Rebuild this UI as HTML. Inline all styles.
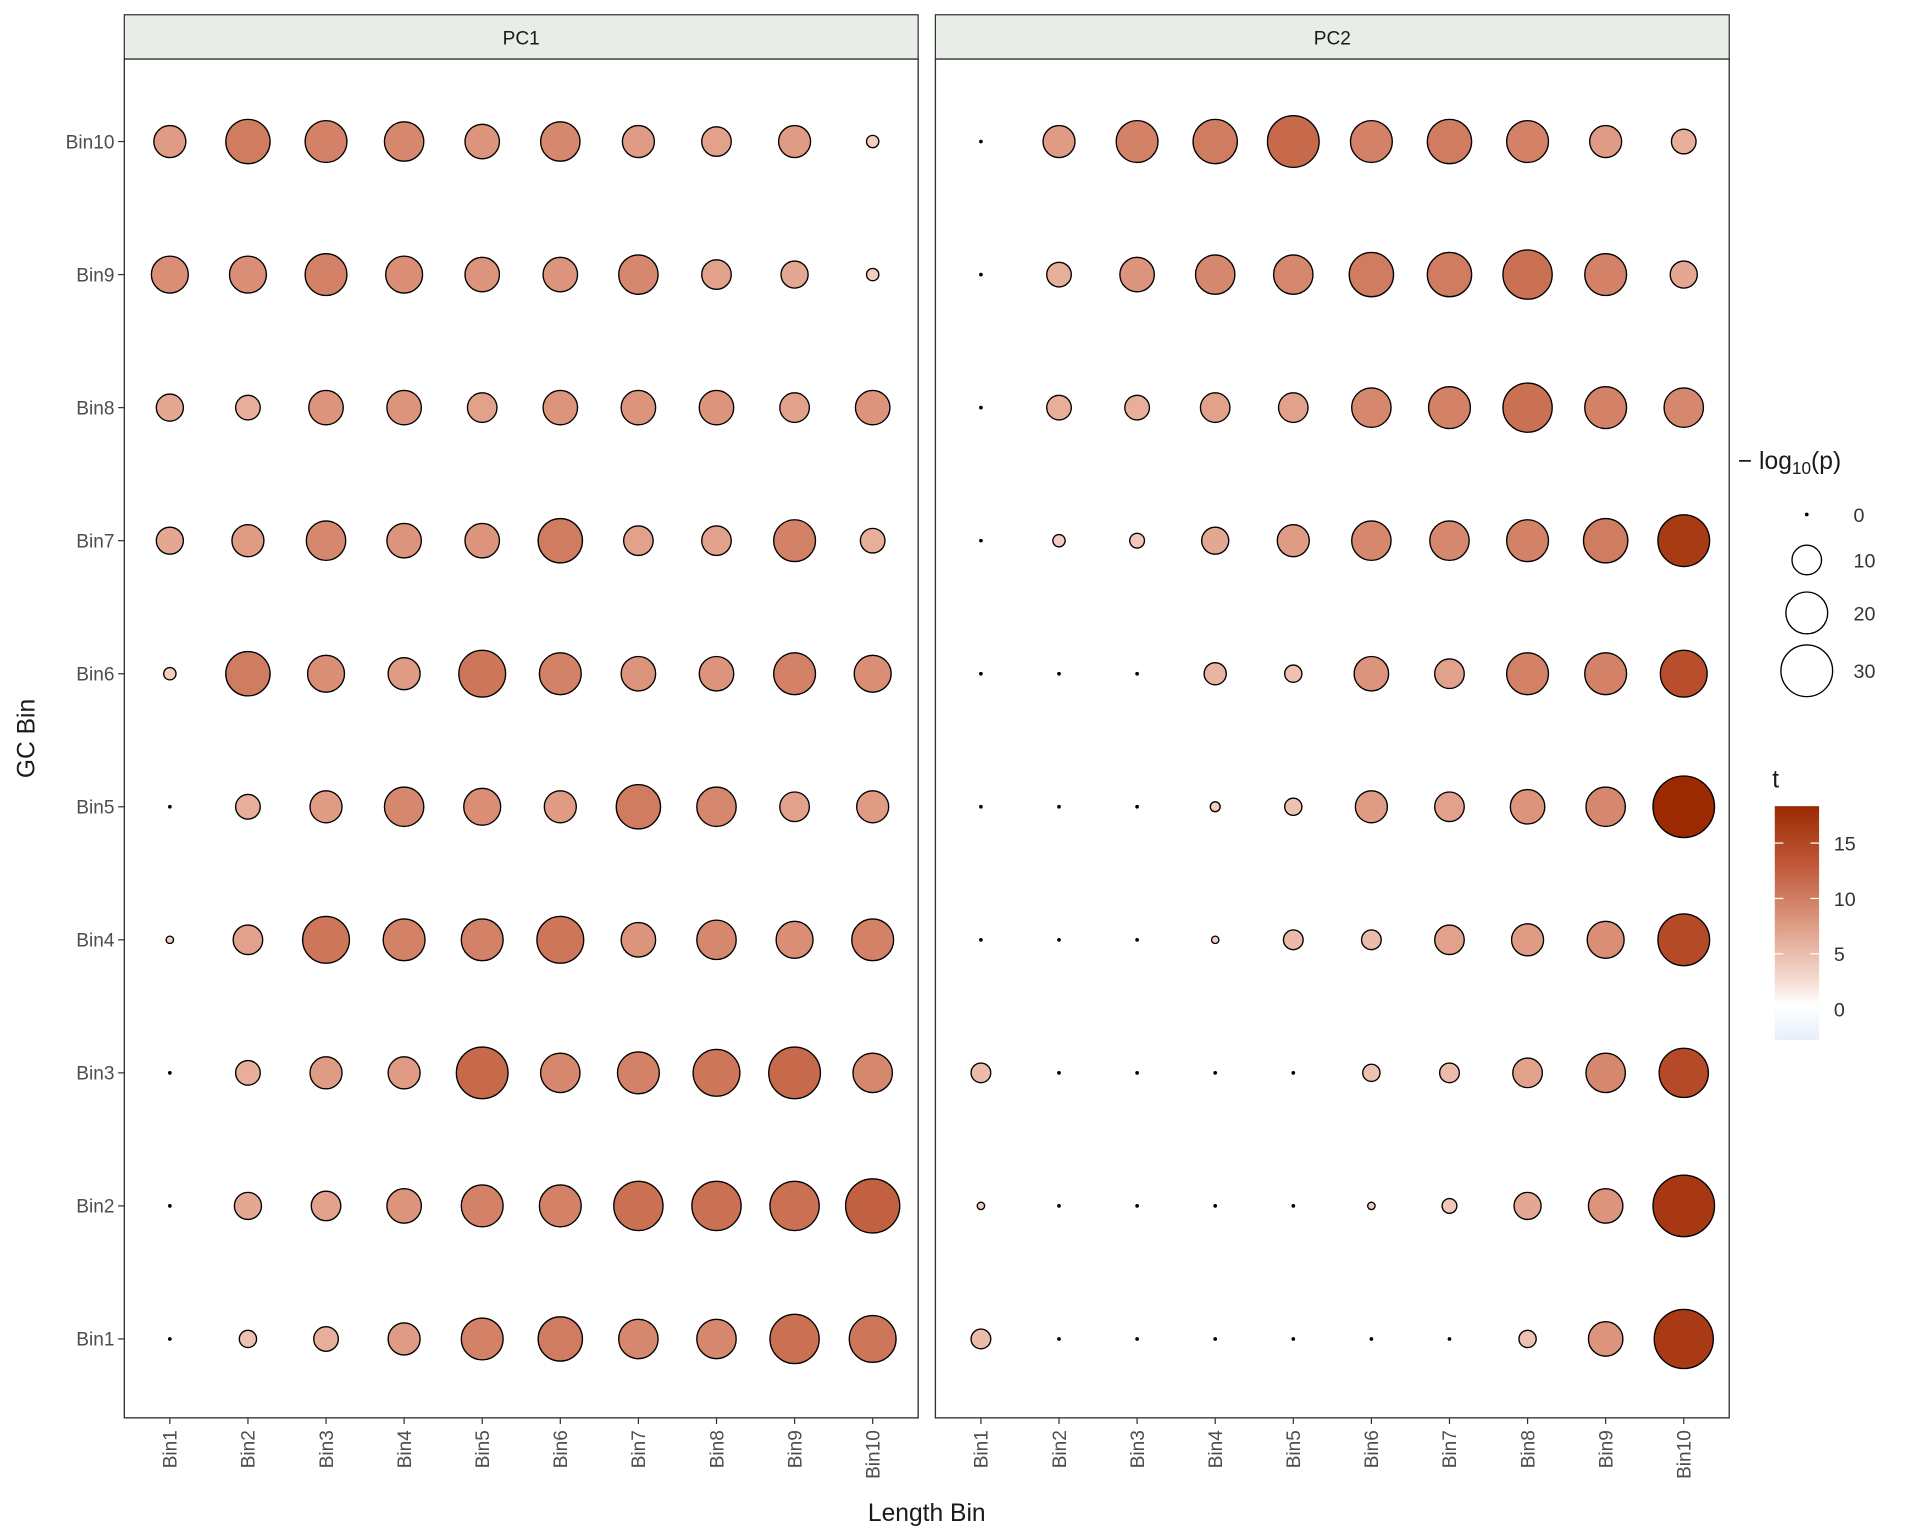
<!DOCTYPE html>
<html><head><meta charset="utf-8"><style>html,body{margin:0;padding:0;background:#fff}svg{display:block}</style></head>
<body>
<svg id="s" width="1920" height="1536" viewBox="0 0 1560 1248" xmlns="http://www.w3.org/2000/svg" font-family="Liberation Sans, Arial, sans-serif">
<defs><linearGradient id="cg" x1="0" y1="0" x2="0" y2="1">
<stop offset="0" stop-color="#9b2a02"/><stop offset="0.25" stop-color="#c0583a"/><stop offset="0.5" stop-color="#dc9a82"/><stop offset="0.75" stop-color="#f6dcd3"/><stop offset="0.85" stop-color="#ffffff"/><stop offset="1" stop-color="#e6effa"/></linearGradient></defs>
<rect width="1560" height="1248" fill="#fff"/>
<g id="g"></g>
</svg>
<script>
var P1=[[13,18,17,16,14,16,13,12,13,5],[15,15,17,15,14,14,16,12,11,5],[11,10,14,14,12,14,14,14,12,14],[11,13,16,14,14,18,12,12,17,10],[5,18,15,13,19,17,14,14,17,15],[1.5,10,13,16,15,13,18,16,12,13],[3,12,19,17,17,19,14,16,15,17],[1.5,10,13,13,21,16,17,19,21,16],[2,11,12,14,17,17,20,20,20,22],[1.5,7,10,13,17,18,16,16,20,19]];
var P2=[[1.5,13,17,18,21,17,18,17,13,10],[1.5,10,14,16,16,18,18,20,17,11],[1.5,10,10,12,12,16,17,20,17,16],[1.5,5,6,11,13,16,16,17,18,21],[1.5,1.5,1.5,9,7,14,12,17,17,19],[1.5,1.5,1.5,4,7,13,12,14,16,25],[1.5,1.5,1.5,3,8,8,12,13,15,21],[8,1.5,1.5,1.5,1.5,7,8,12,16,20],[3,1.5,1.5,1.5,1.5,3,6,11,14,25],[8,1.5,1.5,1.5,1.5,1.5,1.5,7,14,24]];
var OV={'P2_4_9':'#9b2a02','P2_1_9':'#a83814','P2_0_9':'#aa3a16','P2_2_9':'#b54a28','P2_3_9':'#b54a28','P2_6_9':'#a83a14','P2_5_9':'#b84e2c'};
function lerp(a,b,t){return a.map(function(v,i){return Math.round(v+(b[i]-v)*t)})}
function col(r){var f=Math.max(0,Math.min(1,(r-5)/21));var c0=[243,206,192],c1=[222,152,128],c2=[200,108,78],c3=[170,60,28];var c;
if(f<0.4)c=lerp(c0,c1,f/0.4);else if(f<0.75)c=lerp(c1,c2,(f-0.4)/0.35);else c=lerp(c2,c3,(f-0.75)/0.25);return 'rgb('+c.join(',')+')';}
var h='';
var panels=[[101,746,'PC1',P1,'P1'],[760,1405,'PC2',P2,'P2']];
panels.forEach(function(p){
 var x0=p[0],x1=p[1];
 h+='<rect x="'+x0+'" y="12" width="'+(x1-x0)+'" height="36" fill="#e8ede8" stroke="#333" stroke-width="1"/>';
 h+='<text x="'+((x0+x1)/2)+'" y="36" font-size="15.5" text-anchor="middle" fill="#1a1a1a">'+p[2]+'</text>';
 h+='<rect x="'+x0+'" y="48" width="'+(x1-x0)+'" height="1104" fill="#fff" stroke="#333" stroke-width="1.1"/>';
 var cx0=x0+37;
 for(var j=0;j<10;j++){var cx=cx0+j*63.45;
  h+='<line x1="'+cx+'" y1="1152" x2="'+cx+'" y2="1157" stroke="#333"/>';
  h+='<text transform="translate('+(cx+5.5)+',1162) rotate(-90)" font-size="15.5" text-anchor="end" fill="#4d4d4d">Bin'+(j+1)+'</text>';
 }
 for(var i=0;i<10;i++){var cy=115+i*108.1;
  for(var j=0;j<10;j++){var r=p[3][i][j];var cx=cx0+j*63.45;
   var fc=OV[p[4]+'_'+(9-i)+'_'+j]||col(r);
   if(r<=2)h+='<circle cx="'+cx+'" cy="'+cy+'" r="1.5" fill="#000"/>';
   else h+='<circle cx="'+cx+'" cy="'+cy+'" r="'+r+'" fill="'+fc+'" stroke="#000" stroke-width="1.1"/>';
  }}
});
for(var i=0;i<10;i++){var cy=115+i*108.1;
 h+='<line x1="96" y1="'+cy+'" x2="101" y2="'+cy+'" stroke="#333"/>';
 h+='<text x="93" y="'+(cy+5.5)+'" font-size="15.5" text-anchor="end" fill="#4d4d4d">Bin'+(10-i)+'</text>';}
h+='<text x="753" y="1236" font-size="20" text-anchor="middle" fill="#1a1a1a">Length Bin</text>';
h+='<text transform="translate(28,600) rotate(-90)" font-size="20" text-anchor="middle" fill="#1a1a1a">GC Bin</text>';
h+='<text x="1412" y="381" font-size="20" fill="#1a1a1a">− log<tspan font-size="14" dy="4">10</tspan><tspan dy="-4">(p)</tspan></text>';
[[418,1.2,'0'],[455,12,'10'],[498,17,'20'],[545,21,'30']].forEach(function(l){
 if(l[1]<2)h+='<circle cx="1468" cy="'+l[0]+'" r="1.5" fill="#000"/>';else h+='<circle cx="1468" cy="'+l[0]+'" r="'+l[1]+'" fill="#fff" stroke="#000" stroke-width="1.1"/>';
 h+='<text x="1506" y="'+(l[0]+6)+'" font-size="16" fill="#333">'+l[2]+'</text>';});
h+='<text x="1440" y="640" font-size="20" fill="#1a1a1a">t</text>';
h+='<rect x="1442" y="655" width="36" height="190" fill="url(#cg)"/>';
[[685,'15'],[730,'10'],[775,'5'],[820,'0']].forEach(function(t){
 h+='<line x1="1442" y1="'+t[0]+'" x2="1449" y2="'+t[0]+'" stroke="#fff"/><line x1="1471" y1="'+t[0]+'" x2="1478" y2="'+t[0]+'" stroke="#fff"/>';
 h+='<text x="1490" y="'+(t[0]+6)+'" font-size="16" fill="#333">'+t[1]+'</text>';});
document.getElementById('g').innerHTML=h;
</script>
</body></html>
